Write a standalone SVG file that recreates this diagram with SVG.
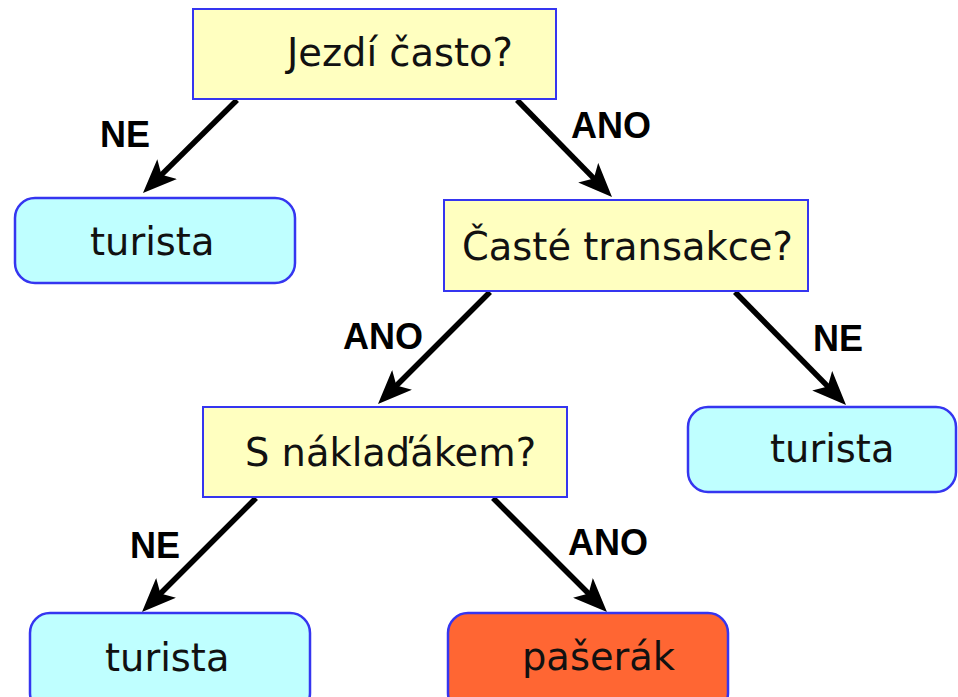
<svg xmlns="http://www.w3.org/2000/svg" width="958" height="697" viewBox="0 0 958 697">
  <style>
    .bg { fill: #ffffff; }
    .question { fill: #ffffc0; stroke: #3535f0; stroke-width: 2; }
    .leaf { fill: #bfffff; stroke: #3535f0; stroke-width: 2.5; }
    .leaf-hot { fill: #ff6633; stroke: #3535f0; stroke-width: 2.5; }
    .node-text { font-family: "DejaVu Sans", Verdana, sans-serif; font-size: 38.4px; fill: #111111; }
    .edge { stroke: #000000; stroke-width: 5.5; fill: none; marker-end: url(#arrow); }
    .edge-label { font-family: "Liberation Sans", Arial, sans-serif; font-weight: bold; font-size: 36px; fill: #000000; }
  </style>
  <defs>
    <marker id="arrow" viewBox="0 0 34 28" refX="22" refY="14" markerWidth="34" markerHeight="28" markerUnits="userSpaceOnUse" orient="auto">
      <path d="M0,0 L34,14 L0,28 L8,14 Z" fill="#000000"/>
    </marker>
  </defs>

  <rect class="bg" x="0" y="0" width="958" height="697"/>

  <!-- connectors -->
  <g id="connectors">
    <line class="edge" x1="237" y1="100" x2="151.5" y2="184.6"/>
    <line class="edge" x1="517" y1="100" x2="603.6" y2="188.4"/>
    <line class="edge" x1="490" y1="292" x2="386.5" y2="395.5"/>
    <line class="edge" x1="735" y1="292" x2="837.6" y2="396.4"/>
    <line class="edge" x1="256" y1="498" x2="150.5" y2="603.5"/>
    <line class="edge" x1="493" y1="498" x2="598.5" y2="603.5"/>
    <text class="edge-label" x="100" y="147">NE</text>
    <text class="edge-label" x="571" y="138">ANO</text>
    <text class="edge-label" x="343" y="349">ANO</text>
    <text class="edge-label" x="813" y="351">NE</text>
    <text class="edge-label" x="130" y="558">NE</text>
    <text class="edge-label" x="568" y="555">ANO</text>
  </g>

  <!-- decision nodes -->
  <g id="q-jezdi">
    <rect class="question" x="193" y="9" width="363" height="90"/>
    <text class="node-text" x="287" y="66">Jezdí často?</text>
  </g>
  <g id="q-transakce">
    <rect class="question" x="444" y="200" width="364" height="91"/>
    <text class="node-text" x="462" y="260">Časté transakce?</text>
  </g>
  <g id="q-nakladak">
    <rect class="question" x="203" y="407" width="364" height="90"/>
    <text class="node-text" x="245" y="466">S náklaďákem?</text>
  </g>

  <!-- leaf nodes -->
  <g id="leaf-turista-1">
    <rect class="leaf" x="15" y="198" width="280" height="85" rx="20" ry="20"/>
    <text class="node-text" x="90" y="255">turista</text>
  </g>
  <g id="leaf-turista-2">
    <rect class="leaf" x="688" y="407" width="268" height="85" rx="20" ry="20"/>
    <text class="node-text" x="770" y="462">turista</text>
  </g>
  <g id="leaf-turista-3">
    <rect class="leaf" x="30" y="613" width="280" height="100" rx="20" ry="20"/>
    <text class="node-text" x="105" y="671">turista</text>
  </g>
  <g id="leaf-paserak">
    <rect class="leaf-hot" x="448" y="613" width="280" height="100" rx="20" ry="20"/>
    <text class="node-text" x="522" y="670">pašerák</text>
  </g>
</svg>
